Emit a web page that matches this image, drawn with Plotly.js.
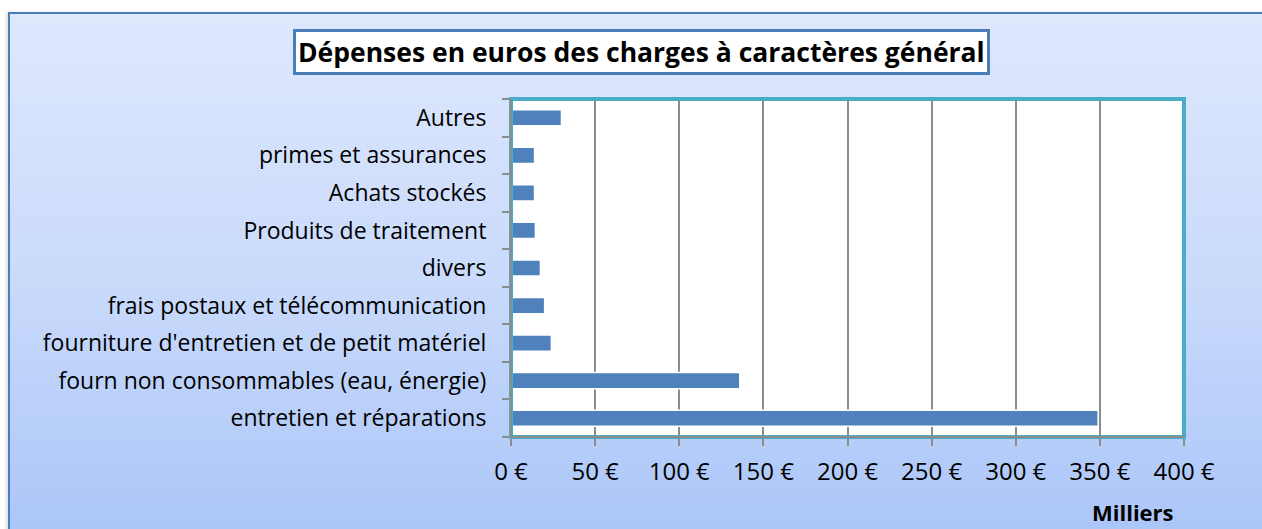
<!DOCTYPE html>
<html>
<head>
<meta charset="utf-8">
<script src="https://cdn.plot.ly/plotly-3.0.1.min.js"></script>
<style>
  html, body { margin: 0; padding: 0; background: #ffffff; width: 1262px; height: 529px; overflow: hidden; }
  #frame {
    position: absolute; left: 8px; top: 12px; width: 1270px; height: 540px;
    background: linear-gradient(to bottom, #dfe8fd 0%, #c9dafb 50%, #a8c4f8 100%);
    border-left: 2px solid #4a7ebb; border-top: 2px solid #4a7ebb;
    box-shadow: -2px 0 3px rgba(0,0,0,0.12);
  }
  #chart { position: absolute; left: 0; top: 0; width: 1262px; height: 529px; }
</style>
</head>
<body>
<div id="frame"></div>
<div id="chart"></div>
<script>
// Data (values in thousands of euros)
const categories = [
  "entretien et réparations",
  "fourn non consommables (eau, énergie)",
  "fourniture d'entretien et de petit matériel",
  "frais postaux et télécommunication",
  "divers",
  "Produits de traitement",
  "Achats stockés",
  "primes et assurances",
  "Autres"
];
const values = [349, 136, 24, 20, 17.5, 14.5, 14, 14, 30];
const tickValues = [0, 50, 100, 150, 200, 250, 300, 350, 400];
const tickLabels = ["0 €", "50 €", "100 €", "150 €", "200 €", "250 €", "300 €", "350 €", "400 €"];
const titleText = "Dépenses en euros des charges à caractères général";
const unitText = "Milliers";

const W = 1262, H = 529;
const L = 511, R = 78, T = 99, B = 92;
const pw = W - L - R, ph = H - T - B;
const px = x => (x - L) / pw;
const py = y => (H - B - y) / ph;

const FONT = "'Open Sans', Lato, sans-serif";

const trace = {
  type: "bar",
  orientation: "h",
  y: categories,
  x: values,
  marker: { color: "#4f81bd", line: { color: "#ffffff", width: 1.5 } },
  hoverinfo: "x+y"
};

const layout = {
  width: W, height: H,
  margin: { l: L, r: R, t: T, b: B, pad: 0 },
  paper_bgcolor: "rgba(0,0,0,0)",
  plot_bgcolor: "#ffffff",
  bargap: 0.57,
  showlegend: false,
  font: { family: FONT, size: 23, color: "#000000" },
  xaxis: {
    range: [0, 400],
    tickvals: tickValues,
    ticktext: tickLabels,
    showgrid: true, gridcolor: "#8c8c8c", gridwidth: 2,
    showline: true, linecolor: "#8c8c8c", linewidth: 2,
    ticks: "outside", ticklen: 7, tickcolor: "#8c8c8c", tickwidth: 2,
    ticklabelstandoff: 5,
    zeroline: false,
    tickfont: { family: FONT, size: 24, color: "#000000" },
    fixedrange: true
  },
  yaxis: {
    type: "category",
    showgrid: false,
    showline: true, linecolor: "#8c8c8c", linewidth: 2,
    ticks: "outside", ticklen: 7, tickcolor: "#8c8c8c", tickwidth: 2,
    tickson: "boundaries",
    ticklabelstandoff: 18,
    tickfont: { family: FONT, size: 23, color: "#000000" },
    automargin: false,
    fixedrange: true
  },
  shapes: [
    { type: "rect", xref: "paper", yref: "paper", x0: 0, x1: 1, y0: 0, y1: 1,
      line: { color: "#4bacc6", width: 4 }, layer: "above" },
    { type: "line", xref: "paper", yref: "paper", x0: 0, x1: 0, y0: 0, y1: 1,
      line: { color: "#8c8c8c", width: 2 }, layer: "above" },
    { type: "line", xref: "paper", yref: "paper", x0: 0, x1: 1, y0: 0, y1: 0,
      line: { color: "#8c8c8c", width: 2 }, layer: "above" }
  ],
  annotations: [
    { text: "<b>" + titleText + "</b>", xref: "paper", yref: "paper",
      x: px(641.5), y: py(51.5), xanchor: "center", yanchor: "middle", showarrow: false,
      font: { family: FONT, size: 26.5, color: "#000000" },
      bgcolor: "#ffffff", bordercolor: "#4a7ebb", borderwidth: 3, borderpad: 2 },
    { text: "<b>" + unitText + "</b>", xref: "paper", yref: "paper",
      x: px(1133), y: py(512), xanchor: "center", yanchor: "middle", showarrow: false,
      font: { family: FONT, size: 22, color: "#000000" } }
  ]
};

Plotly.newPlot("chart", [trace], layout, { displayModeBar: false, staticPlot: true });
</script>
</body>
</html>
